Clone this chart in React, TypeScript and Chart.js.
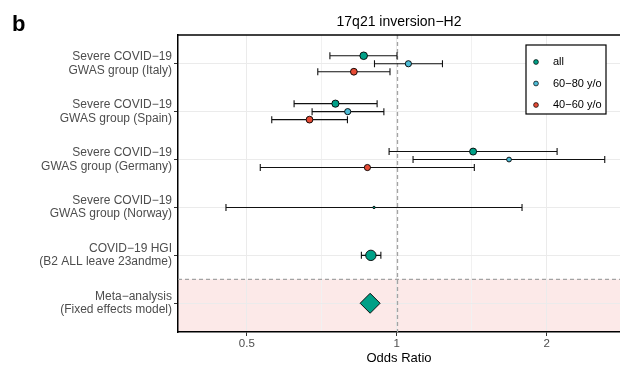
import React, { useEffect, useRef } from 'react';
import { Chart, registerables } from 'chart.js';

Chart.register(...registerables);

const categories: string[][] = [
  ['Severe COVID−19', 'GWAS group (Italy)'],
  ['Severe COVID−19', 'GWAS group (Spain)'],
  ['Severe COVID−19', 'GWAS group (Germany)'],
  ['Severe COVID−19', 'GWAS group (Norway)'],
  ['COVID−19 HGI', '(B2 ALL leave 23andme)'],
  ['Meta−analysis', '(Fixed effects model)'],
];
const seriesNames = ['all', '60−80 y/o', '40−60 y/o'];

const allOR = [0.858, 0.753, 1.423, 0.9, 0.887, 0.884];
const allLow = [0.734, 0.622, 0.965, 0.454, 0.849, null];
const allHigh = [1.001, 0.913, 2.098, 1.784, 0.929, null];

const age6080OR = [1.055, 0.797, 1.68, null, null, null];
const age6080Low = [0.902, 0.676, 1.078, null, null, null];
const age6080High = [1.235, 0.942, 2.615, null, null, null];

const age4060OR = [0.82, 0.668, 0.873, null, null, null];
const age4060Low = [0.694, 0.561, 0.532, null, null, null];
const age4060High = [0.969, 0.796, 1.431, null, null, null];

const xTickValues = [0.5, 0.7071, 1, 1.4142, 2];
const xTickLabels = ['0.5', '', '1', '', '2'];
const xMin = 0.3637;
const xMax = 2.806;

const chartTitle = '17q21 inversion−H2';
const panelLabel = 'b';
const xAxisTitle = 'Odds Ratio';

const COLORS = ['#00A087', '#4DBBD5', '#E64B35'];
const allRadius = [3.8, 3.6, 3.5, 1.2, 5.2, 10];
const age6080Radius = [3.1, 3.1, 2.4];
const age4060Radius = [3.4, 3.4, 3.1];

function buildPoints(or: (number | null)[], lo: (number | null)[], hi: (number | null)[], offset: number) {
  const pts: any[] = [];
  or.forEach((v, i) => {
    if (v == null) return;
    const multi = age6080OR[i] != null || age4060OR[i] != null;
    pts.push({ x: v, y: categories.length - 1 - i + (multi ? offset : 0), lo: lo[i], hi: hi[i] });
  });
  return pts;
}

const decorPlugin = {
  id: 'decor',
  beforeDraw(chart: any) {
    const { ctx, chartArea, scales } = chart;
    const yS = scales.y;
    const y0 = yS.getPixelForValue(0.5);
    ctx.save();
    ctx.fillStyle = '#fce9e8';
    ctx.fillRect(chartArea.left, y0, chartArea.right - chartArea.left, chartArea.bottom - y0);
    ctx.restore();
  },
  beforeDatasetsDraw(chart: any) {
    const { ctx, chartArea, scales } = chart;
    const xS = scales.x;
    const yS = scales.y;
    ctx.save();
    ctx.strokeStyle = '#a3a3a3';
    ctx.lineWidth = 1.3;
    ctx.setLineDash([4, 3]);
    const x1 = Math.round(xS.getPixelForValue(1)) + 0.5;
    ctx.beginPath();
    ctx.moveTo(x1, chartArea.top);
    ctx.lineTo(x1, chartArea.bottom);
    ctx.stroke();
    const yh = yS.getPixelForValue(0.5);
    ctx.beginPath();
    ctx.moveTo(chartArea.left, yh);
    ctx.lineTo(chartArea.right, yh);
    ctx.stroke();
    ctx.setLineDash([]);
    // error bars
    ctx.strokeStyle = '#111';
    ctx.lineWidth = 1.1;
    chart.data.datasets.forEach((ds: any, di: number) => {
      const meta = chart.getDatasetMeta(di);
      ds.data.forEach((p: any, i: number) => {
        if (p.lo == null || p.hi == null) return;
        const el = meta.data[i];
        const y = el.y;
        const xl = xS.getPixelForValue(p.lo);
        const xr = xS.getPixelForValue(p.hi);
        ctx.beginPath();
        ctx.moveTo(xl, y);
        ctx.lineTo(xr, y);
        ctx.moveTo(xl, y - 3.5);
        ctx.lineTo(xl, y + 3.5);
        ctx.moveTo(xr, y - 3.5);
        ctx.lineTo(xr, y + 3.5);
        ctx.stroke();
      });
    });
    ctx.restore();
  },
  afterDraw(chart: any) {
    const { ctx, chartArea } = chart;
    ctx.save();
    // top border
    ctx.strokeStyle = '#000';
    ctx.lineWidth = 1.5;
    ctx.beginPath();
    ctx.moveTo(chartArea.left - 0.75, chartArea.top);
    ctx.lineTo(chartArea.right, chartArea.top);
    ctx.stroke();
    // title
    ctx.fillStyle = '#000';
    ctx.textAlign = 'center';
    ctx.textBaseline = 'alphabetic';
    ctx.font = '14px "Liberation Sans", Arial, sans-serif';
    ctx.fillText(chartTitle, (chartArea.left + chartArea.right) / 2, 26);
    ctx.font = 'bold 22px "Liberation Sans", Arial, sans-serif';
    ctx.textAlign = 'left';
    ctx.fillText(panelLabel, 12, 31);
    ctx.font = '13px "Liberation Sans", Arial, sans-serif';
    ctx.textAlign = 'center';
    ctx.fillText(xAxisTitle, (chartArea.left + chartArea.right) / 2, 362);
    // legend
    const lx = 526, ly = 45, lw = 80, lh = 69;
    ctx.fillStyle = '#fff';
    ctx.fillRect(lx, ly, lw, lh);
    ctx.strokeStyle = '#000';
    ctx.lineWidth = 1.2;
    ctx.strokeRect(lx, ly, lw, lh);
    const rows = [62, 83.5, 105];
    ctx.font = '11px "Liberation Sans", Arial, sans-serif';
    ctx.textAlign = 'left';
    ctx.textBaseline = 'middle';
    seriesNames.forEach((name, i) => {
      ctx.beginPath();
      ctx.arc(536, rows[i], 2.4, 0, Math.PI * 2);
      ctx.fillStyle = COLORS[i];
      ctx.fill();
      ctx.lineWidth = 0.7;
      ctx.strokeStyle = '#000';
      ctx.stroke();
      ctx.fillStyle = '#000';
      ctx.fillText(name, 553, rows[i]);
    });
    ctx.restore();
  },
};

export default function App() {
  const ref = useRef<HTMLCanvasElement>(null);
  useEffect(() => {
    if (!ref.current) return;
    Chart.defaults.font.family = '"Liberation Sans", Arial, sans-serif';
    const chart = new Chart(ref.current, {
      type: 'scatter',
      data: {
        datasets: [
          {
            label: seriesNames[0],
            data: buildPoints(allOR, allLow, allHigh, 1 / 6),
            backgroundColor: COLORS[0],
            borderColor: '#000',
            borderWidth: 0.9,
            pointRadius: allRadius,
            pointStyle: allOR.map((_, i) => (i === allOR.length - 1 ? 'rectRot' : 'circle')),
          },
          {
            label: seriesNames[1],
            data: buildPoints(age6080OR, age6080Low, age6080High, 0),
            backgroundColor: COLORS[1],
            borderColor: '#000',
            borderWidth: 0.9,
            pointRadius: age6080Radius,
          },
          {
            label: seriesNames[2],
            data: buildPoints(age4060OR, age4060Low, age4060High, -1 / 6),
            backgroundColor: COLORS[2],
            borderColor: '#000',
            borderWidth: 0.9,
            pointRadius: age4060Radius,
          },
        ],
      },
      options: {
        animation: false,
        responsive: false,
        layout: { autoPadding: false, padding: { top: 35, left: 0, right: 0, bottom: 0 } },
        plugins: { legend: { display: false }, tooltip: { enabled: false } },
        scales: {
          x: {
            type: 'logarithmic',
            min: xMin,
            max: xMax,
            afterBuildTicks: (s: any) => {
              s.ticks = xTickValues.map((v) => ({ value: v }));
            },
            afterFit: (s: any) => {
              s.height = 33;
              s.paddingLeft = 0;
              s.paddingRight = 0;
            },
            ticks: {
              callback: (_v: any, i: number) => xTickLabels[i],
              color: '#4d4d4d',
              font: { size: 11.5 },
              padding: 1,
              autoSkip: false,
              maxRotation: 0,
            },
            grid: {
              color: (c: any) => (xTickLabels[c.index] ? '#ebebeb' : '#f1f1f1'),
              lineWidth: 1,
              tickLength: 4,
              tickColor: (c: any) => (xTickLabels[c.index] ? '#333' : 'rgba(0,0,0,0)'),
            },
            border: { display: true, color: '#000', width: 1.5 },
          },
          y: {
            type: 'linear',
            min: -0.6,
            max: 5.6,
            afterBuildTicks: (s: any) => {
              s.ticks = categories.map((_, i) => ({ value: i }));
            },
            afterFit: (s: any) => {
              s.width = 178;
              s.paddingTop = 0;
              s.paddingBottom = 0;
            },
            ticks: {
              callback: (v: any) => categories[categories.length - 1 - Number(v)],
              color: '#4d4d4d',
              font: { size: 12, lineHeight: 1.11 },
              padding: 2,
              autoSkip: false,
            },
            grid: { color: '#ebebeb', lineWidth: 1, tickLength: 4, tickColor: '#333' },
            border: { display: true, color: '#000', width: 1.5 },
          },
        },
      },
      plugins: [decorPlugin],
    } as any);
    return () => chart.destroy();
  }, []);
  return (
    <div style={{ position: 'fixed', left: 0, top: 0, width: 620, height: 365, background: '#fff' }}>
      <canvas ref={ref} width={620} height={365} style={{ width: 620, height: 365, display: 'block' }} />
    </div>
  );
}
